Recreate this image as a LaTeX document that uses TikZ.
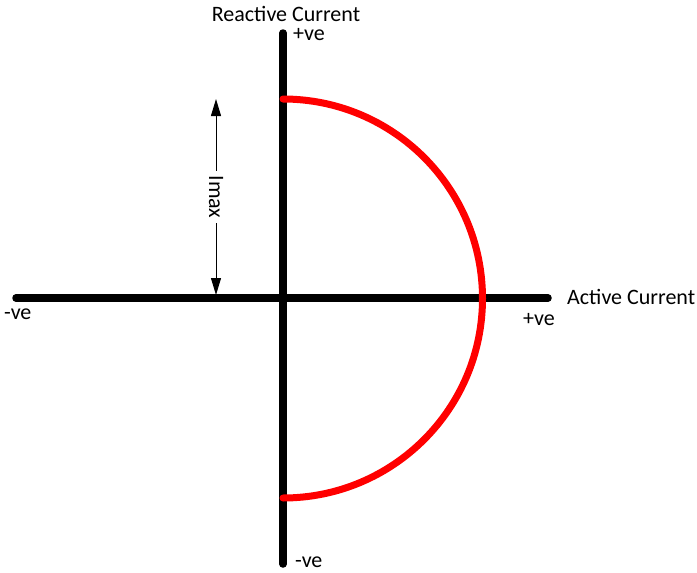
\documentclass[tikz,border=0pt]{standalone}
\usepackage{fontspec}
\setmainfont{Carlito}
\usetikzlibrary{arrows.meta}
\begin{document}
\begin{tikzpicture}[x=1pt,y=-1pt,
  axis/.style={line width=7.5pt,line cap=round,black},
  arcline/.style={line width=7pt,line cap=round,red},
  lbl/.style={font=\fontsize{22}{26}\selectfont,inner sep=0pt},
  dim/.style={line width=1pt,{Triangle[length=17pt,width=10pt]}-{Triangle[length=17pt,width=10pt]}}]
\useasboundingbox (0,0) rectangle (697,573);
\coordinate (O) at (283,298);
\coordinate (xl) at (16,298);
\coordinate (xr) at (548,298);
\coordinate (yt) at (283,33);
\coordinate (yb) at (283,564);
\draw[axis] (xl) -- (xr);
\draw[axis] (yt) -- (yb);
\coordinate (atop) at (283,99);
\draw[arcline] (atop) arc[start angle=-90,end angle=90,radius=199.5];
\coordinate (dt) at (216,99);
\coordinate (db) at (216,295);
\draw[dim] (dt) -- node[lbl,fill=white,rotate=-90,inner xsep=5pt,inner ysep=1pt] (imax) {Imax} (db);
\node[lbl,anchor=base] (rc) at (286,21) {Reactive Current};
\node[lbl,anchor=base west] (pt) at (293,40) {+ve};
\node[lbl,anchor=base west] (ac) at (567,304) {Active Current};
\node[lbl,anchor=base west] (pr) at (523,325) {+ve};
\node[lbl,anchor=base west] (nl) at (4,319) {-ve};
\node[lbl,anchor=base west] (nb) at (295,567) {-ve};
\end{tikzpicture}
\end{document}
